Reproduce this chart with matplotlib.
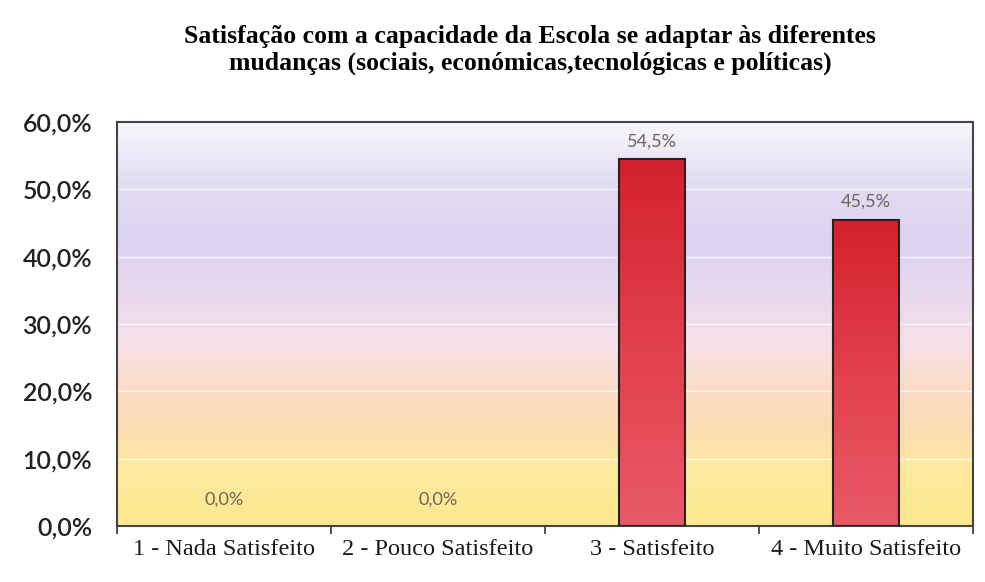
import matplotlib.pyplot as plt
import numpy as np
from matplotlib.colors import LinearSegmentedColormap
from matplotlib.ticker import FuncFormatter

# data
categories = [
    "1 - Nada Satisfeito",
    "2 - Pouco Satisfeito",
    "3 - Satisfeito",
    "4 - Muito Satisfeito",
]
values = [0.0, 0.0, 54.5, 45.5]
title = ("Satisfação com a capacidade da Escola se adaptar às diferentes\n"
         "mudanças (sociais, económicas,tecnológicas e políticas)")

SERIF = ["Liberation Serif", "DejaVu Serif"]
SANS = ["Lato", "DejaVu Sans"]

fig = plt.figure(figsize=(9.85, 5.82), dpi=100)
ax = fig.add_axes([0.1188, 0.0962, 0.869, 0.6942])

x = np.arange(len(categories))
ymax = 60

# background: yellow at the bottom, peach, pink, lavender, white at the top
bg = LinearSegmentedColormap.from_list("bg", [
    (0.00, "#fde98e"),
    (0.16, "#fde8a2"),
    (0.24, "#fddcb4"),
    (0.33, "#fbdcc4"),
    (0.45, "#f6e0e8"),
    (0.58, "#e8d8ef"),
    (0.70, "#dcd3f0"),
    (0.85, "#e3ddf3"),
    (1.00, "#f9f7fc"),
])
grad = np.linspace(0, 1, 256).reshape(-1, 1)
ax.imshow(grad, cmap=bg, aspect="auto", origin="lower",
          extent=[-0.5, len(categories) - 0.5, 0, ymax], zorder=0)

for g in range(10, 60, 10):
    ax.axhline(g, color="white", lw=1.0, alpha=0.75, zorder=1)

bars = ax.bar(x, values, width=0.31, color="none", edgecolor="#2b2020",
              linewidth=1.5, zorder=3)

bar_cmap = LinearSegmentedColormap.from_list("bar", ["#e85a66", "#e2404c", "#d3202e"])
for rect in bars:
    h = rect.get_height()
    if h <= 0:
        rect.set_linewidth(0)
        continue
    x0 = rect.get_x()
    im = ax.imshow(grad, cmap=bar_cmap, aspect="auto", origin="lower",
                   extent=[x0, x0 + rect.get_width(), 0, h], zorder=2)
    im.set_clip_path(rect)

for xi, v in zip(x, values):
    off = 13 if v == 0 else 7
    ax.annotate(f"{v:.1f}%".replace(".", ","), (xi, v), xytext=(0, off),
                textcoords="offset points", ha="center", va="bottom",
                fontsize=13, color="#6b6558", family=SANS)

ax.set_xlim(-0.5, len(categories) - 0.5)
ax.set_ylim(0, ymax)
ax.set_yticks(range(0, 61, 10))
ax.yaxis.set_major_formatter(FuncFormatter(lambda v, _: f"{v:.1f}%".replace(".", ",")))
ax.set_xticks(x)
ax.set_xticklabels(categories)
ax.set_xticks(np.arange(-0.5, len(categories), 1), minor=True)
ax.tick_params(axis="x", which="major", length=0, pad=9)
ax.tick_params(axis="x", which="minor", length=6, width=1.2, color="#333333")
ax.tick_params(axis="y", length=0, pad=18)
for lab in ax.get_xticklabels():
    lab.set_family(SERIF)
    lab.set_fontsize(17.5)
    lab.set_color("#1a1a1a")
for lab in ax.get_yticklabels():
    lab.set_family(SANS)
    lab.set_fontsize(18)
    lab.set_fontweight("semibold")
    lab.set_color("#222222")

for sp in ax.spines.values():
    sp.set_color("#444444")
    sp.set_linewidth(1.5)

fig.text(0.538, 0.914, title, ha="center", va="center", fontsize=18.5,
         fontweight="bold", family=SERIF, linespacing=1.15)

fig.savefig("out.png", dpi=100, facecolor="white")
